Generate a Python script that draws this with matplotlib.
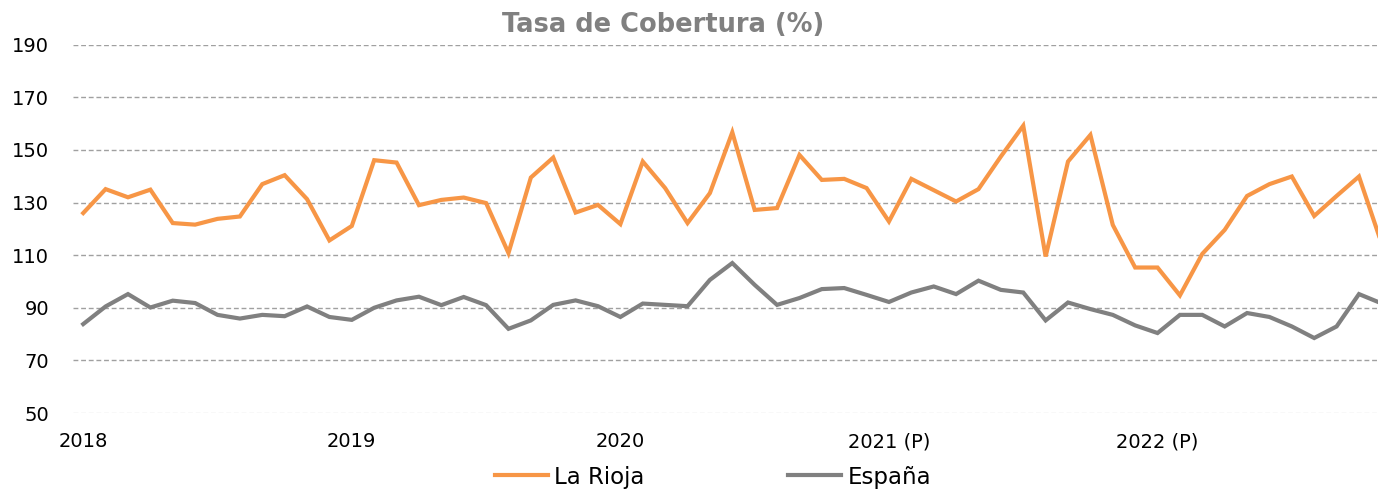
import matplotlib
matplotlib.use("Agg")
import matplotlib.pyplot as plt
import numpy as np

# Monthly data, Jan 2018 onwards
la_rioja = [126.0, 135.1, 132.0, 134.9, 122.2, 121.6, 123.8, 124.7, 137.0, 140.4, 131.3, 115.6,
            121.1, 146.1, 145.2, 129.0, 131.0, 131.9, 129.8, 110.8, 139.5, 147.1, 126.2, 129.1,
            121.8, 145.6, 135.5, 122.2, 133.6, 156.7, 127.2, 127.9, 148.1, 138.6, 139.0, 135.5,
            122.8, 139.0, 134.7, 130.4, 135.1, 147.5, 159.2, 109.5, 145.6, 155.7, 121.5, 105.3,
            105.3, 94.7, 110.5, 119.6, 132.5, 137.0, 139.9, 124.9, 132.5, 139.9, 114.7]
espana = [83.8, 90.5, 95.2, 90.1, 92.7, 91.8, 87.3, 85.9, 87.3, 86.8, 90.5, 86.5,
          85.4, 90.0, 92.8, 94.2, 91.0, 94.1, 91.0, 82.0, 85.2, 91.1, 92.8, 90.6,
          86.5, 91.6, 91.1, 90.6, 100.6, 107.0, 98.7, 91.1, 93.7, 97.1, 97.5, 94.9,
          92.2, 95.8, 98.1, 95.2, 100.3, 96.8, 95.8, 85.2, 92.0, 89.5, 87.3, 83.3,
          80.4, 87.3, 87.3, 82.9, 88.0, 86.5, 82.9, 78.5, 82.9, 95.2, 91.7]
year_labels = ["2018", "2019", "2020", "2021 (P)", "2022 (P)"]
series_names = ["La Rioja", "España"]

plt.rcParams['font.family'] = ['DejaVu Sans']

fig = plt.figure(figsize=(13.78, 4.90), dpi=100)
ax = fig.add_axes([72.7 / 1378, 1 - 413 / 490, 1 - 72.7 / 1378, (413 - 44.7) / 490])

x = np.arange(len(la_rioja))
ax.plot(x, la_rioja, color="#F79646", lw=3.0, label=series_names[0], solid_joinstyle="miter")
ax.plot(x, espana, color="#808080", lw=3.0, label=series_names[1], solid_joinstyle="miter")

ax.set_ylim(50, 190)
ax.set_xlim(-0.47, 57.85)
ax.set_yticks(np.arange(50, 191, 20))
ax.set_xticks([0, 12, 24, 36, 48])
ax.set_xticklabels(year_labels)
for yv in range(70, 191, 20):
    ax.axhline(yv, color="#A0A0A0", lw=1.0, ls=(0, (3.5, 2)), zorder=0)
ax.axhline(50, color="#E0E0E0", lw=1.0, ls=(0, (3.5, 2)), zorder=0)

for s in ax.spines.values():
    s.set_visible(False)
ax.tick_params(axis="both", length=0, labelsize=14, colors="#000000")
ax.tick_params(axis="y", pad=17)
ax.tick_params(axis="x", pad=14)

fig.text(663 / 1378, 1 - 25 / 490, "Tasa de Cobertura (%)", ha="center", va="center",
         fontsize=18.5, fontweight="bold", color="#808080")

leg = fig.legend(loc="center", bbox_to_anchor=(713 / 1378, 1 - 477 / 490), ncol=2, frameon=False,
                 fontsize=16.5, handlelength=2.3, handletextpad=0.3, columnspacing=6.25)

fig.savefig("out.png", dpi=100)
